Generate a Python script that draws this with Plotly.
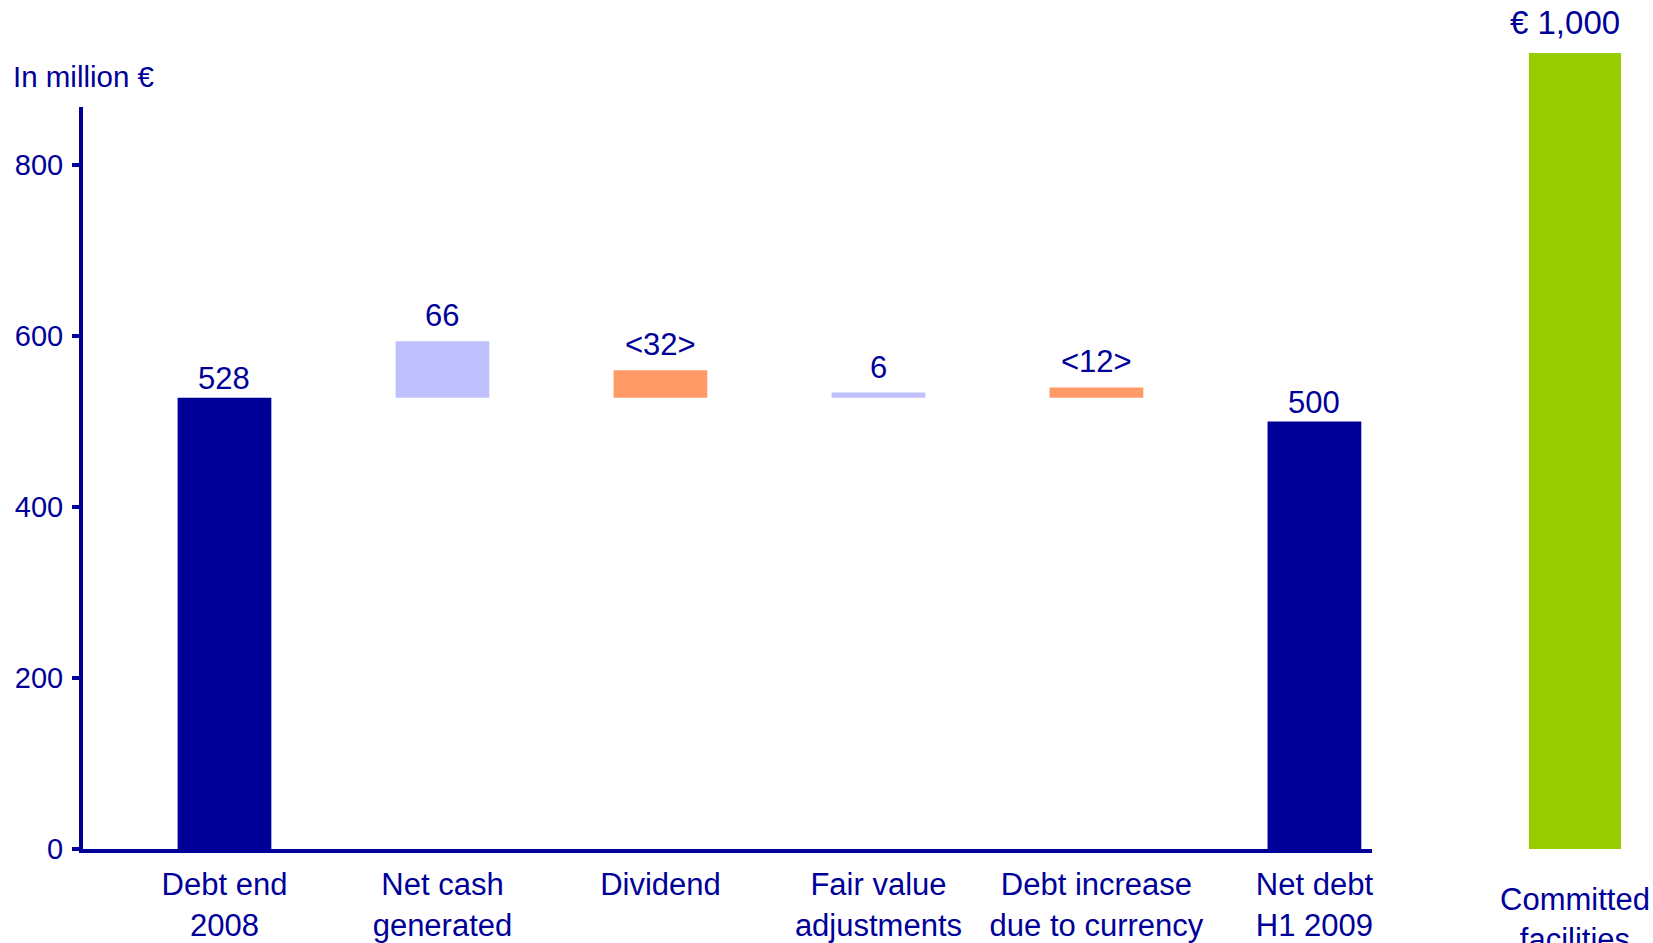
import plotly.graph_objects as go

# Net debt bridge, in million euro
categories = ["Debt end<br>2008", "Net cash<br>generated", "Dividend",
              "Fair value<br>adjustments", "Debt increase<br>due to currency",
              "Net debt<br>H1 2009"]
opening_debt = 528
movements = [66, -32, 6, -12]          # cash view: positive = cash in
closing_debt = 500

facility_label = "Committed<br>facilities"
facility_value = 1000

y_ticks = [0, 200, 400, 600, 800]

NAVY = "#000099"
LAVENDER = "#C0C0FF"
ORANGE = "#FF9966"
GREEN = "#99CC00"
FONT = "Arial, Liberation Sans, sans-serif"


def fmt(v):
    return f"<{abs(v)}>" if v < 0 else f"{v}"


fig = go.Figure()

# opening and closing totals
fig.add_bar(x=[categories[0], categories[-1]], y=[opening_debt, closing_debt],
            marker=dict(color=NAVY, line=dict(width=0)), width=0.43,
            xaxis="x", yaxis="y", showlegend=False, hoverinfo="x+y")

# floating movement bars resting on the opening level
fig.add_bar(x=categories[1:-1], y=[abs(m) for m in movements],
            base=[opening_debt] * len(movements),
            marker=dict(color=[LAVENDER if m > 0 else ORANGE for m in movements],
                        line=dict(width=0)),
            width=0.43, xaxis="x", yaxis="y", showlegend=False)

# committed facilities on its own scale
fig.add_bar(x=[facility_label], y=[facility_value],
            marker=dict(color=GREEN, line=dict(width=0)), width=0.532,
            xaxis="x2", yaxis="y2", showlegend=False)

annotations = []
label_font = dict(family=FONT, size=31, color=NAVY)
annotations.append(dict(x=categories[0], y=opening_debt, xref="x", yref="y",
                        text=fmt(opening_debt), showarrow=False,
                        yanchor="bottom", yshift=0, font=label_font))
for cat, m in zip(categories[1:-1], movements):
    annotations.append(dict(x=cat, y=opening_debt + abs(m), xref="x", yref="y",
                            text=fmt(m), showarrow=False,
                            yanchor="bottom", yshift=6, font=label_font))
annotations.append(dict(x=categories[-1], y=closing_debt, xref="x", yref="y",
                        text=fmt(closing_debt), showarrow=False,
                        yanchor="bottom", yshift=0, font=label_font))
annotations.append(dict(x=facility_label, y=facility_value, xref="x2", yref="y2",
                        text=f"€ {facility_value:,}", showarrow=False,
                        yanchor="bottom", yshift=10, xshift=-10,
                        font=dict(family=FONT, size=33, color=NAVY)))
annotations.append(dict(x=-0.046, y=0.9324, xref="paper", yref="paper",
                        text="In million €", showarrow=False,
                        xanchor="left", yanchor="middle",
                        font=dict(family=FONT, size=29.5, color=NAVY)))

fig.update_layout(
    width=1653, height=943, autosize=False,
    margin=dict(l=83, r=0, t=20, b=94, autoexpand=False),
    paper_bgcolor="white", plot_bgcolor="white",
    font=dict(family=FONT, color=NAVY),
    bargap=0.5,
    annotations=annotations,
    xaxis=dict(domain=[0, 0.821], anchor="y", type="category",
               categoryorder="array", categoryarray=categories,
               range=[-0.649, 5.264], showline=True, linecolor=NAVY,
               linewidth=4, ticks="", showgrid=False, zeroline=False,
               automargin=False,
               tickfont=dict(family=FONT, size=31, color=NAVY),
               ticklabelstandoff=5),
    yaxis=dict(domain=[0, 0.895], anchor="x", range=[0, 868],
               tickvals=y_ticks, showline=True, linecolor=NAVY, linewidth=4,
               ticks="outside", ticklen=7, tickwidth=4, tickcolor=NAVY,
               showgrid=False, zeroline=False, ticklabelstandoff=3,
               automargin=False,
               tickfont=dict(family=FONT, size=29, color=NAVY)),
    xaxis2=dict(domain=[0.8898, 1.0], anchor="y2", type="category",
                range=[-0.549, 0.451], showline=False, ticks="",
                showgrid=False, zeroline=False, automargin=False,
                tickfont=dict(family=FONT, size=31, color=NAVY),
                ticklabelstandoff=29),
    yaxis2=dict(domain=[0, 1], anchor="x2", range=[0, 1041.5], visible=False,
                automargin=False),
)

fig.write_html("out.html")
